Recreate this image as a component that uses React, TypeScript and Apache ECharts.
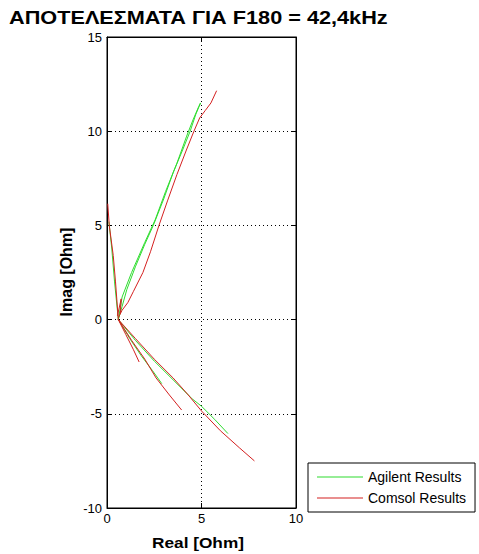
import React, { useEffect, useRef } from "react";
import * as echarts from "echarts";

const titleText = "ΑΠΟΤΕΛΕΣΜΑΤΑ ΓΙΑ F180 = 42,4kHz";
const xAxisName = "Real [Ohm]";
const yAxisName = "Imag [Ohm]";
const seriesNames = ["Agilent Results", "Comsol Results"];

// Agilent Results (green) branches
const agilentUpper: [number, number][] = [
  [0.6, 0], [0.8, 0.7], [1.05, 1.6], [1.5, 2.8], [2.0, 4.0], [2.45, 5.0], [3.0, 6.4], [3.5, 7.8],
  [4.0, 9.0], [4.4, 10.0], [4.7, 10.9], [4.95, 11.5], [4.85, 11.3], [4.55, 10.6], [4.2, 9.7],
  [3.7, 8.3], [3.1, 6.8], [2.55, 5.3], [2.0, 4.1], [1.3, 2.5], [0.8, 1.2], [0.6, 0],
];
const agilentLeft: [number, number][] = [
  [0.1, 5.2], [0.25, 3.8], [0.4, 2.0], [0.6, 0],
];
const agilentLowerLong: [number, number][] = [
  [0.6, 0], [1.5, -1.1], [2.5, -2.2], [3.5, -3.2], [4.5, -4.2], [5.0, -4.6], [5.7, -5.3], [6.4, -6.05],
];
const agilentLowerMid: [number, number][] = [
  [0.6, 0], [1.2, -1.0], [1.8, -1.9], [2.4, -2.7], [2.9, -3.4],
];

// Comsol Results (red) branches
const comsolUpper: [number, number][] = [
  [0.6, 0.1], [0.8, 0.5], [1.1, 0.9], [1.4, 1.5], [1.9, 2.5], [2.3, 3.6], [2.75, 5.0], [3.2, 6.3],
  [3.7, 7.7], [4.2, 9.0], [4.6, 10.0], [4.9, 10.7], [5.2, 11.1], [5.5, 11.5], [5.8, 12.15],
];
const comsolLeft: [number, number][] = [
  [0.04, 6.15], [0.12, 5.0], [0.33, 3.4], [0.45, 2.0], [0.6, 0],
];
const comsolSpike: [number, number][] = [
  [0.55, 0.2], [0.75, 1.1], [0.7, 0.3],
];
const comsolLowerLong: [number, number][] = [
  [0.6, 0], [1.5, -1.0], [2.5, -2.1], [3.5, -3.1], [4.3, -4.0], [5.0, -4.85], [6.0, -5.9],
  [7.0, -6.8], [7.8, -7.5],
];
const comsolLowerMid: [number, number][] = [
  [0.6, 0], [1.3, -1.1], [2.0, -2.1], [2.6, -3.1], [3.3, -4.0], [3.95, -4.8],
];
const comsolLowerShort: [number, number][] = [
  [0.6, 0], [1.0, -0.8], [1.4, -1.6], [1.7, -2.25],
];

const GREEN = "#2fdc2f";
const RED = "#d42020";
const FONT = "Liberation Sans";

export default function App() {
  const ref = useRef<HTMLDivElement>(null);
  useEffect(() => {
    if (!ref.current) return;
    const chart = echarts.init(ref.current, undefined, { renderer: "svg" });
    const mk = (name: string, data: [number, number][], color: string) => ({
      name,
      type: "line",
      data,
      symbol: "none",
      showSymbol: false,
      lineStyle: { color, width: 1 },
      itemStyle: { color },
      z: 3,
    });
    const axisCommon = {
      axisLine: { show: true, onZero: false, lineStyle: { color: "#000", width: 1 } },
      axisTick: { show: true, inside: true, length: 5, lineStyle: { color: "#000" } },
    };
    chart.setOption({
      animation: false,
      backgroundColor: "#fff",
      graphic: [
        {
          type: "text",
          x: 9,
          y: 18,
          scaleX: 1.205,
          style: {
            text: titleText,
            font: `bold 18px "${FONT}"`,
            fill: "#000",
            textAlign: "left",
            textVerticalAlign: "middle",
          },
        },
        {
          type: "text",
          x: 198,
          y: 542,
          scaleX: 1.15,
          style: {
            text: xAxisName,
            font: `bold 15px "${FONT}"`,
            fill: "#000",
            textAlign: "center",
            textVerticalAlign: "middle",
          },
        },
        {
          type: "text",
          x: 66,
          y: 272,
          rotation: Math.PI / 2,
          style: {
            text: yAxisName,
            font: `bold 16px "${FONT}"`,
            fill: "#000",
            textAlign: "center",
            textVerticalAlign: "middle",
          },
        },
      ],
      legend: {
        orient: "vertical",
        left: 308,
        top: 463,
        width: 165,
        padding: [6, 9, 6, 9],
        itemGap: 5,
        itemWidth: 46,
        itemHeight: 1,
        icon: "rect",
        borderColor: "#000",
        borderWidth: 1,
        borderRadius: 0,
        backgroundColor: "#fff",
        data: seriesNames,
        textStyle: { fontFamily: FONT, fontSize: 14, lineHeight: 16, color: "#000" },
      },
      grid: {
        left: 107,
        top: 37,
        right: 183,
        bottom: 46,
        show: true,
        borderColor: "#000",
        borderWidth: 1,
        backgroundColor: "#fff",
      },
      xAxis: [
        {
          type: "value",
          min: 0,
          max: 10,
          interval: 5,
          axisLabel: { fontFamily: FONT, fontSize: 13, color: "#000", margin: 4 },
          splitLine: { show: true, lineStyle: { color: "#000", type: [1, 3], width: 1 } },
          ...axisCommon,
        },
        {
          type: "value",
          position: "top",
          min: 0,
          max: 10,
          interval: 5,
          axisLabel: { show: false },
          splitLine: { show: false },
          ...axisCommon,
        },
      ],
      yAxis: [
        {
          type: "value",
          min: -10,
          max: 15,
          interval: 5,
          axisLabel: { fontFamily: FONT, fontSize: 13, color: "#000", margin: 5 },
          splitLine: { show: true, lineStyle: { color: "#000", type: [1, 3], width: 1 } },
          ...axisCommon,
        },
        {
          type: "value",
          position: "right",
          min: -10,
          max: 15,
          interval: 5,
          axisLabel: { show: false },
          splitLine: { show: false },
          ...axisCommon,
        },
      ],
      series: [
        mk(seriesNames[0], agilentUpper, GREEN),
        mk(seriesNames[0], agilentLeft, GREEN),
        mk(seriesNames[0], agilentLowerLong, GREEN),
        mk(seriesNames[0], agilentLowerMid, GREEN),
        mk(seriesNames[1], comsolUpper, RED),
        mk(seriesNames[1], comsolLeft, RED),
        mk(seriesNames[1], comsolSpike, RED),
        mk(seriesNames[1], comsolLowerLong, RED),
        mk(seriesNames[1], comsolLowerMid, RED),
        mk(seriesNames[1], comsolLowerShort, RED),
      ],
    });
    return () => chart.dispose();
  }, []);
  return (
    <div
      ref={ref}
      style={{ position: "fixed", left: 0, top: 0, width: 479, height: 554 }}
    />
  );
}
